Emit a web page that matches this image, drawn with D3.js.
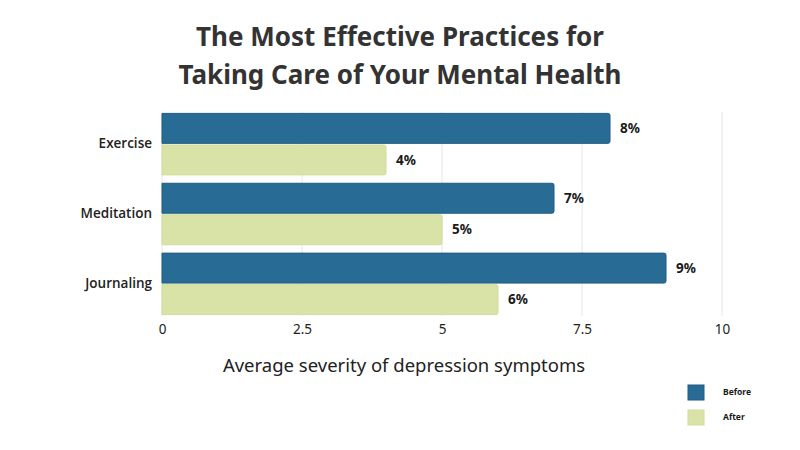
<!DOCTYPE html>
<html>
<head>
<meta charset="utf-8">
<script src="https://cdn.jsdelivr.net/npm/d3@7"></script>
<style>
  body { margin: 0; background: #fff; }
  svg { display: block; }
</style>
</head>
<body>
<div id="chart"></div>
<script>
const categories = ["Exercise", "Meditation", "Journaling"];
const seriesNames = ["Before", "After"];
const beforeValues = [8, 7, 9];
const afterValues = [4, 5, 6];
const tickValues = [0, 2.5, 5, 7.5, 10];
const titleLines = ["The Most Effective Practices for", "Taking Care of Your Mental Health"];
const xTitle = "Average severity of depression symptoms";

let width = 800, height = 450;
let margin = { left: 162, right: 78, top: 112, bottom: 134 };
let colors = { Before: "#286c96", After: "#d9e3a7" };
let strokes = { Before: "#1e5b84", After: "#d0dc9c" };

let svg = d3.select("#chart")
    .append("svg")
    .attr("width", width)
    .attr("height", height);

svg.append("rect")
    .attr("width", "100%")
    .attr("height", "100%")
    .attr("fill", "#ffffff");

// title
svg.selectAll(".title")
    .data(titleLines)
    .enter()
    .append("text")
    .attr("class", "title")
    .attr("x", 400)
    .attr("y", (d, i) => 46 + i * 38)
    .attr("text-anchor", "middle")
    .style("font-family", "'Noto Sans', sans-serif")
    .style("font-weight", 700)
    .style("font-size", "26px")
    .style("fill", "#333333")
    .text(d => d);

let x = d3.scaleLinear()
    .domain([0, 10])
    .range([margin.left, width - margin.right]);

let y0 = d3.scaleBand()
    .domain(categories)
    .range([margin.top, height - margin.bottom])
    .paddingInner(0.12)
    .paddingOuter(0.02);

let y1 = d3.scaleBand()
    .domain(seriesNames)
    .range([0, y0.bandwidth()])
    .paddingInner(0.05);

// gridlines
svg.append("g")
    .selectAll("line")
    .data(tickValues)
    .enter()
    .append("line")
    .attr("x1", d => x(d))
    .attr("x2", d => x(d))
    .attr("y1", margin.top)
    .attr("y2", height - margin.bottom)
    .attr("stroke", "#e6e6e6")
    .attr("stroke-width", 1);

// x axis
let xAxis = d3.axisBottom(x)
    .tickValues(tickValues)
    .tickSize(0)
    .tickPadding(0)
    .tickFormat(d => d);

let gx = svg.append("g")
    .attr("transform", "translate(0," + (height - margin.bottom + 8) + ")")
    .call(xAxis);
gx.select(".domain").remove();
gx.selectAll("text")
    .style("font-family", "'Noto Sans', sans-serif")
    .style("font-size", "13.5px")
    .style("fill", "#222");

// y axis labels
let yAxis = d3.axisLeft(y0).tickSize(0).tickPadding(10);
let gy = svg.append("g")
    .attr("transform", "translate(" + margin.left + ",0)")
    .call(yAxis);
gy.select(".domain").remove();
gy.selectAll("text")
    .style("font-family", "'Open Sans', sans-serif")
    .style("font-weight", 600)
    .style("font-size", "13.5px")
    .style("fill", "#222");

// bars
let rows = [];
categories.forEach((c, i) => {
    rows.push({ cat: c, series: "Before", value: beforeValues[i] });
    rows.push({ cat: c, series: "After", value: afterValues[i] });
});

let bars = svg.append("g");
bars.selectAll("path")
    .data(rows)
    .enter()
    .append("path")
    .attr("d", d => {
        let x0 = x(0), x1 = x(d.value);
        let top = y0(d.cat) + y1(d.series);
        let h = y1.bandwidth();
        let r = 2;
        return "M" + x0 + "," + top +
            "H" + (x1 - r) +
            "Q" + x1 + "," + top + " " + x1 + "," + (top + r) +
            "V" + (top + h - r) +
            "Q" + x1 + "," + (top + h) + " " + (x1 - r) + "," + (top + h) +
            "H" + x0 + "Z";
    })
    .attr("fill", d => colors[d.series])
    .attr("stroke", d => strokes[d.series])
    .attr("stroke-width", 1);

// value labels
svg.append("g")
    .selectAll("text")
    .data(rows)
    .enter()
    .append("text")
    .attr("x", d => x(d.value) + 10)
    .attr("y", d => y0(d.cat) + y1(d.series) + y1.bandwidth() / 2)
    .attr("dy", "0.35em")
    .style("font-family", "'Noto Sans', sans-serif")
    .style("font-weight", 700)
    .style("font-size", "13.5px")
    .style("fill", "#1a1a1a")
    .text(d => d.value + "%");

// x axis title
svg.append("text")
    .attr("x", (margin.left + width - margin.right) / 2 - 38)
    .attr("y", 372)
    .attr("text-anchor", "middle")
    .style("font-family", "'Noto Sans', sans-serif")
    .style("font-size", "18.5px")
    .style("fill", "#222")
    .text(xTitle);

// legend
let legend = svg.append("g")
    .attr("transform", "translate(688,385)");
let li = legend.selectAll("g")
    .data(seriesNames)
    .enter()
    .append("g")
    .attr("transform", (d, i) => "translate(0," + i * 25 + ")");
li.append("rect")
    .attr("width", 16)
    .attr("height", 15)
    .attr("fill", d => colors[d])
    .attr("stroke", d => strokes[d]);
li.append("text")
    .attr("x", 35)
    .attr("y", 7.5)
    .attr("dy", "0.35em")
    .style("font-family", "'Noto Sans', sans-serif")
    .style("font-weight", 700)
    .style("font-size", "8.5px")
    .style("fill", "#1a1a1a")
    .text(d => d);
</script>
</body>
</html>
